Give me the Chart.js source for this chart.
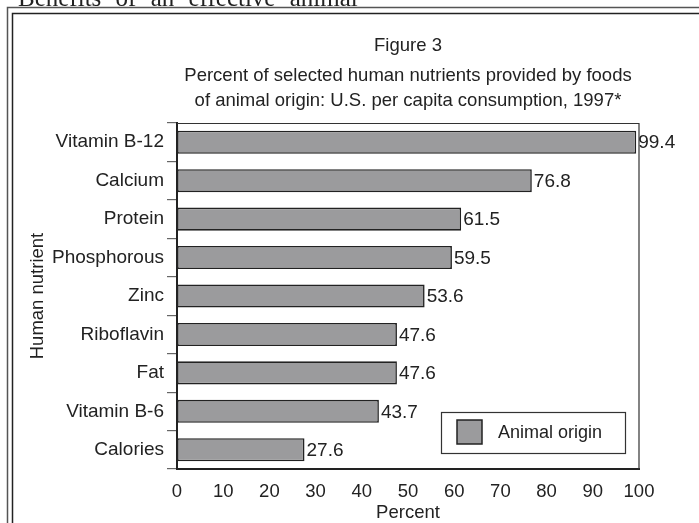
<!DOCTYPE html>
<html>
<head>
<meta charset="utf-8">
<script src="https://cdn.jsdelivr.net/npm/chart.js@4.4.1/dist/chart.umd.min.js"></script>
<style>
  html, body { margin: 0; padding: 0; background: #fff; overflow: hidden; }
  #wrap { position: relative; width: 699px; height: 523px; overflow: hidden; }
  #heading { position: absolute; left: 18px; top: -14px; font-family: "Liberation Serif", "DejaVu Serif", serif; font-size: 25px; line-height: 24px; color: #222; word-spacing: 8px; white-space: nowrap; }
  canvas { position: absolute; left: 0; top: 0; }
</style>
</head>
<body>
<div id="wrap">
  <canvas id="c" width="699" height="523"></canvas>
  <div id="heading">Benefits of an effective animal</div>
</div>
<script>
const categories = ["Vitamin B-12", "Calcium", "Protein", "Phosphorous", "Zinc", "Riboflavin", "Fat", "Vitamin B-6", "Calories"];
const animalOrigin = [99.4, 76.8, 61.5, 59.5, 53.6, 47.6, 47.6, 43.7, 27.6];
const seriesLabel = "Animal origin";
const titleText = "Figure 3";
const subtitleLines = ["Percent of selected human nutrients provided by foods", "of animal origin: U.S. per capita consumption, 1997*"];
const xTitle = "Percent";
const yTitle = "Human nutrient";

const FONT = "'Liberation Sans', Arial, Helvetica, sans-serif";
const INK = "#222";
const BAR = "#9b9b9d";

const framePlugin = {
  id: "frame",
  beforeDraw(chart) {
    const ctx = chart.ctx;
    ctx.save();
    ctx.strokeStyle = "#555";
    ctx.lineWidth = 1.5;
    ctx.beginPath();
    ctx.moveTo(7.5, 523); ctx.lineTo(7.5, 7.5); ctx.lineTo(699, 7.5);
    ctx.stroke();
    ctx.strokeStyle = "#222";
    ctx.lineWidth = 1.5;
    ctx.beginPath();
    ctx.moveTo(12.5, 523); ctx.lineTo(12.5, 13.5); ctx.lineTo(699, 13.5);
    ctx.stroke();
    ctx.restore();
  }
};

const boxPlugin = {
  id: "box",
  afterDatasetsDraw(chart) {
    const {ctx, chartArea: a} = chart;
    ctx.save();
    ctx.strokeStyle = "#333";
    ctx.lineWidth = 1.2;
    ctx.beginPath();
    ctx.moveTo(a.left, a.top + 0.5); ctx.lineTo(a.right, a.top + 0.5); ctx.lineTo(a.right, a.bottom);
    ctx.stroke();
    ctx.restore();
  }
};

const labelPlugin = {
  id: "barLabels",
  afterDatasetsDraw(chart) {
    const ctx = chart.ctx;
    const meta = chart.getDatasetMeta(0);
    const data = chart.data.datasets[0].data;
    ctx.save();
    ctx.font = "19px " + FONT;
    ctx.fillStyle = INK;
    ctx.textAlign = "left";
    ctx.textBaseline = "middle";
    meta.data.forEach((bar, i) => {
      ctx.fillText(data[i].toFixed(1), bar.x + 2, bar.y + 1);
    });
    ctx.restore();
  }
};

const legendPlugin = {
  id: "boxLegend",
  afterDraw(chart) {
    const {ctx, chartArea: a} = chart;
    const w = 184, h = 41;
    const x = a.right - 14 - w, y = a.bottom - 16 - h;
    ctx.save();
    ctx.fillStyle = "#fff";
    ctx.fillRect(x, y, w, h);
    ctx.strokeStyle = "#333";
    ctx.lineWidth = 1.2;
    ctx.strokeRect(x + 0.5, y + 0.5, w, h);
    ctx.fillStyle = BAR;
    ctx.fillRect(x + 16, y + 8, 25, 24);
    ctx.strokeStyle = "#222";
    ctx.lineWidth = 1.5;
    ctx.strokeRect(x + 16, y + 8, 25, 24);
    ctx.font = "18px " + FONT;
    ctx.fillStyle = INK;
    ctx.textAlign = "left";
    ctx.textBaseline = "middle";
    ctx.fillText(chart.data.datasets[0].label, x + 57, y + 21);
    ctx.restore();
  }
};

new Chart(document.getElementById("c"), {
  type: "bar",
  data: {
    labels: categories,
    datasets: [{
      label: seriesLabel,
      data: animalOrigin,
      backgroundColor: BAR,
      borderColor: "#222",
      borderWidth: 1.6,
      borderSkipped: false,
      barPercentage: 0.6,
      categoryPercentage: 1.0
    }]
  },
  options: {
    indexAxis: "y",
    responsive: false,
    animation: false,
    devicePixelRatio: 1,
    layout: { padding: { left: 20, right: 60, top: 0, bottom: 0 } },
    plugins: {
      legend: { display: false },
      tooltip: { enabled: false },
      title: {
        display: true, text: titleText, fullSize: false,
        color: INK, font: { family: FONT, size: 18.5, weight: "normal", lineHeight: 1.2 },
        padding: { top: 35, bottom: 2 }
      },
      subtitle: {
        display: true, text: subtitleLines, fullSize: false,
        color: INK, font: { family: FONT, size: 18.5, weight: "normal", lineHeight: 25 / 18.5 },
        padding: { top: 4, bottom: 9.8 }
      }
    },
    scales: {
      x: {
        min: 0, max: 100,
        ticks: { stepSize: 10, color: INK, font: { family: FONT, size: 18.5 }, padding: 12, maxRotation: 0 },
        grid: { display: false, drawTicks: false },
        border: { display: true, color: "#222", width: 2 },
        title: { display: true, text: xTitle, color: INK, font: { family: FONT, size: 18.5 }, padding: { top: 0, bottom: -1 } },
        afterFit(scale) { scale.height = 54; }
      },
      y: {
        ticks: { color: INK, font: { family: FONT, size: 19 }, padding: 3 },
        grid: { display: true, drawOnChartArea: false, drawTicks: true, tickLength: 10, color: "#666", lineWidth: 1.2, offset: true },
        border: { display: true, color: "#222", width: 2 },
        title: { display: true, text: yTitle, color: INK, font: { family: FONT, size: 18.5 }, padding: { top: 7, bottom: 0 } },
        afterFit(scale) { scale.width = 157; }
      }
    }
  },
  plugins: [framePlugin, boxPlugin, labelPlugin, legendPlugin]
});
</script>
</body>
</html>
